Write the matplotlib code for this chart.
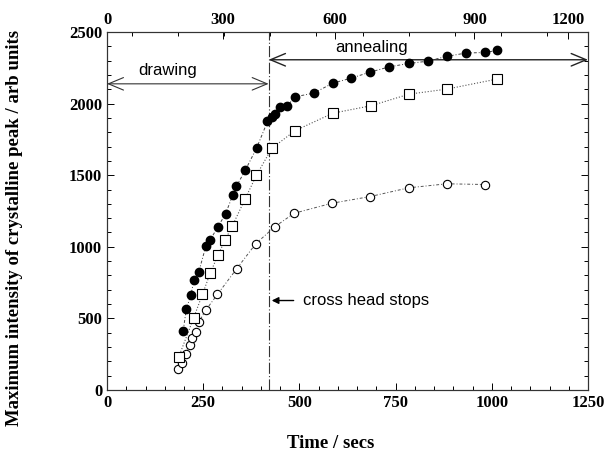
import matplotlib
matplotlib.use("Agg")
import matplotlib.pyplot as plt
import numpy as np
from matplotlib.ticker import MultipleLocator, FixedLocator

# filled circles
t_filled = [198, 206, 218, 226, 238, 257, 268, 288, 308, 327, 336, 359, 389,
            417, 428, 437, 450, 469, 488, 537, 587, 635, 684, 734, 784, 833,
            883, 933, 983, 1013]
i_filled = [415, 564, 665, 769, 821, 1006, 1048, 1139, 1230, 1363, 1422, 1533,
            1691, 1875, 1906, 1927, 1975, 1985, 2047, 2073, 2143, 2178, 2220,
            2257, 2280, 2296, 2330, 2353, 2357, 2371]

# open squares
t_square = [186, 225, 248, 268, 288, 307, 326, 359, 388, 428, 488, 587, 686,
            785, 883, 1013]
i_square = [228, 503, 668, 815, 940, 1048, 1148, 1335, 1498, 1687, 1810, 1933,
            1985, 2066, 2101, 2171]

# open circles
t_circle = [185, 195, 205, 215, 222, 231, 239, 257, 287, 337, 387, 436, 486,
            584, 684, 784, 883, 983]
i_circle = [150, 186, 252, 315, 360, 405, 477, 559, 668, 847, 1023, 1140, 1234,
            1304, 1351, 1412, 1440, 1435]

t_stop = 420
top_labels = ['0', '300', '600', '900', '1200']
top_pos = [0, 302, 592, 955, 1198]

serif = 'Liberation Serif'
sans = 'Liberation Sans'

fig = plt.figure(figsize=(6.04, 4.53), dpi=100)
ax = fig.add_axes([0.1772, 0.139, 0.7963, 0.7904])

ax.plot(t_circle, i_circle, linestyle=(0, (3, 2, 1, 2)), color='#555555', lw=0.7,
        marker='o', ms=6, mfc='white', mec='black', mew=0.8, zorder=3)
ax.plot(t_square, i_square, linestyle=':', color='#555555', lw=0.8,
        marker='s', ms=6.5, mfc='white', mec='black', mew=0.8, zorder=3)
ax.plot(t_filled, i_filled, linestyle=(0, (3, 2, 1, 2)), color='#444444', lw=0.7,
        marker='o', ms=6, mfc='black', mec='black', zorder=4)

ax.axvline(t_stop, color='#333333', lw=0.8, linestyle=(0, (10, 2, 1, 2)), zorder=2)

ax.set_xlim(0, 1250)
ax.set_ylim(0, 2500)

# drawing / annealing arrows
ax.annotate('', xy=(0, 2138), xytext=(t_stop, 2138),
            arrowprops=dict(arrowstyle='<->,head_length=0.6,head_width=0.25',
                            color='#333333', lw=0.8,
                            shrinkA=0, shrinkB=0, mutation_scale=18))
ax.annotate('', xy=(t_stop, 2306), xytext=(1250, 2306),
            arrowprops=dict(arrowstyle='<->,head_length=0.6,head_width=0.25',
                            color='#222222', lw=1.0,
                            shrinkA=0, shrinkB=0, mutation_scale=18))
ax.text(158, 2231, 'drawing', fontfamily=sans, fontsize=12,
        ha='center', va='center')
ax.text(687, 2392, 'annealing', fontfamily=sans, fontsize=12,
        ha='center', va='center')

ax.annotate('', xy=(428, 625), xytext=(485, 625),
            arrowprops=dict(arrowstyle='-|>', color='black', lw=1.0,
                            shrinkA=0, shrinkB=0, mutation_scale=10))
ax.text(510, 625, 'cross head stops', fontfamily=sans, fontsize=12,
        ha='left', va='center')

ax.xaxis.set_major_locator(MultipleLocator(250))
ax.xaxis.set_minor_locator(MultipleLocator(50))
ax.yaxis.set_major_locator(MultipleLocator(500))
ax.yaxis.set_minor_locator(MultipleLocator(100))
ax.tick_params(which='both', direction='in', right=True, top=False,
               labelsize=12, width=0.7)
ax.tick_params(which='major', length=5)
ax.tick_params(which='minor', length=3)
for lab in ax.get_xticklabels() + ax.get_yticklabels():
    lab.set_fontfamily(serif)
    lab.set_fontweight('bold')

ax2 = ax.twiny()
ax2.set_xlim(ax.get_xlim())
ax2.xaxis.set_major_locator(FixedLocator(top_pos))
ax2.set_xticklabels(top_labels, fontfamily=serif, fontweight='bold', fontsize=12)
ax2.xaxis.set_minor_locator(FixedLocator(np.arange(64, 1250, 120)))
ax2.tick_params(which='both', direction='in', width=0.7, pad=3)
ax2.tick_params(which='major', length=5)
ax2.tick_params(which='minor', length=3)

for a in (ax, ax2):
    for s in a.spines.values():
        s.set_linewidth(0.8)
        s.set_color('#333333')

ax.set_xlabel('Time / secs', fontfamily=serif, fontweight='bold', fontsize=13.5)
ax.set_ylabel('Maximum intensity of crystalline peak / arb units',
              fontfamily=serif, fontweight='bold', fontsize=13.5)
ax.xaxis.set_label_coords(0.465, -0.125)
ax.yaxis.set_label_coords(-0.175, 0.453)

fig.savefig('out.png', dpi=100)
